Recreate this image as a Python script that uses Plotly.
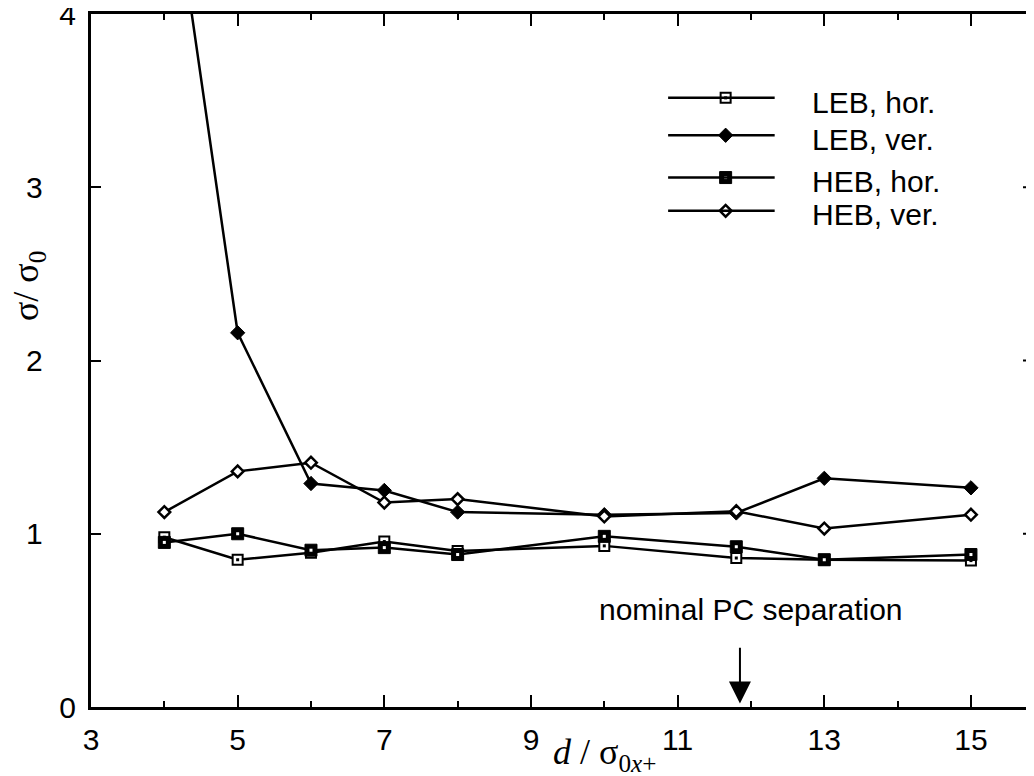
import plotly.graph_objects as go

# ---- data ----
x_vals = [4, 5, 6, 7, 8, 10, 11.8, 13, 15]
leb_hor = [0.98, 0.85, 0.89, 0.955, 0.90, 0.93, 0.86, 0.85, 0.845]
leb_ver = [5.1, 2.16, 1.29, 1.25, 1.125, 1.11, 1.12, 1.32, 1.265]
heb_hor = [0.95, 1.00, 0.905, 0.92, 0.88, 0.985, 0.925, 0.85, 0.88]
heb_ver = [1.125, 1.36, 1.41, 1.18, 1.20, 1.10, 1.13, 1.03, 1.11]

series_names = ["LEB, hor.", "LEB, ver.", "HEB, hor.", "HEB, ver."]
x_major_ticks = [3, 5, 7, 9, 11, 13, 15]
y_ticks = [0, 1, 2, 3, 4]
y_tick_text = ["0", "1\u00a0\u00a0\u00a0\u00a0", "2\u00a0\u00a0\u00a0\u00a0", "3\u00a0\u00a0\u00a0\u00a0", "4"]
nominal_sep = 11.85

LW = 2.5
BLACK = "black"

fig = go.Figure()

# LEB hor: white square with black dot
fig.add_trace(go.Scatter(x=x_vals, y=leb_hor, mode="lines+markers", name=series_names[0],
                         line=dict(color=BLACK, width=LW),
                         marker=dict(symbol="square", size=10, color="white",
                                     line=dict(color=BLACK, width=2))))
fig.add_trace(go.Scatter(x=x_vals, y=leb_hor, mode="markers", showlegend=False,
                         marker=dict(symbol="square", size=3, color=BLACK)))
# LEB ver: filled diamond
fig.add_trace(go.Scatter(x=x_vals, y=leb_ver, mode="lines+markers", name=series_names[1],
                         line=dict(color=BLACK, width=LW),
                         marker=dict(symbol="diamond", size=11, color=BLACK,
                                     line=dict(color=BLACK, width=1))))
# HEB hor: black square with white dot
fig.add_trace(go.Scatter(x=x_vals, y=heb_hor, mode="lines+markers", name=series_names[2],
                         line=dict(color=BLACK, width=LW),
                         marker=dict(symbol="square", size=12, color=BLACK,
                                     line=dict(color=BLACK, width=1))))
fig.add_trace(go.Scatter(x=x_vals, y=heb_hor, mode="markers", showlegend=False,
                         marker=dict(symbol="square", size=3, color="white")))
# HEB ver: open diamond
fig.add_trace(go.Scatter(x=x_vals, y=heb_ver, mode="lines+markers", name=series_names[3],
                         line=dict(color=BLACK, width=LW),
                         marker=dict(symbol="diamond", size=9, color="white",
                                     line=dict(color=BLACK, width=2.5))))

# ---- custom legend (drawn on an overlay paper-like axis) ----
leg_rows = [0.879, 0.825, 0.764, 0.716]
leg_x0, leg_x1, leg_xm, leg_tx = 0.612, 0.725, 0.673, 0.762
shapes = []
for ry in leg_rows:
    shapes.append(dict(type="line", xref="paper", yref="paper", x0=leg_x0, x1=leg_x1,
                       y0=ry, y1=ry, line=dict(color=BLACK, width=LW)))
legend_styles = [
    dict(symbol="square", size=10, color="white", line=dict(color=BLACK, width=2)),
    dict(symbol="diamond", size=11, color=BLACK, line=dict(color=BLACK, width=1)),
    dict(symbol="square", size=12, color=BLACK, line=dict(color=BLACK, width=1)),
    dict(symbol="diamond", size=9, color="white", line=dict(color=BLACK, width=2.5)),
]
for ry, st in zip(leg_rows, legend_styles):
    fig.add_trace(go.Scatter(x=[leg_xm], y=[ry], mode="markers", xaxis="x2", yaxis="y2",
                             showlegend=False, marker=st, hoverinfo="skip"))
fig.add_trace(go.Scatter(x=[leg_xm, leg_xm], y=[leg_rows[0], leg_rows[2]], mode="markers",
                         xaxis="x2", yaxis="y2", showlegend=False, hoverinfo="skip",
                         marker=dict(symbol="square", size=3,
                                     color=[BLACK, "white"])))

annotations = []
for ry, nm in zip(leg_rows, series_names):
    annotations.append(dict(xref="paper", yref="paper", x=leg_tx, y=ry - 0.006, text=nm,
                            showarrow=False, xanchor="left", yanchor="middle",
                            font=dict(family="Liberation Sans, Arial", size=30, color=BLACK)))

# right-side inward y ticks (no right axis line in reference)
for yv in y_ticks[1:-1]:
    shapes.append(dict(type="line", xref="paper", yref="y", x0=1.0, x1=1.0 - 11 / 943,
                       y0=yv, y1=yv, line=dict(color=BLACK, width=2)))

# nominal PC separation arrow + label
annotations.append(dict(x=nominal_sep, y=0.02, ax=nominal_sep, ay=0.35, xref="x", yref="y",
                        axref="x", ayref="y", showarrow=True, arrowhead=2, arrowsize=2.2,
                        arrowwidth=2, arrowcolor=BLACK, text=""))
annotations.append(dict(x=12.0, y=0.56, xref="x", yref="y", text="nominal PC separation",
                        showarrow=False, xanchor="center", yanchor="middle",
                        font=dict(family="Liberation Sans, Arial", size=30, color=BLACK)))

# axis titles
annotations.append(dict(x=10.0, y=-0.069, xref="x", yref="paper",
                        text="<i>d</i> / σ<sub>0<i>x</i>+</sub>", showarrow=False,
                        xanchor="center", yanchor="middle",
                        font=dict(family="Liberation Serif, Times New Roman", size=36, color=BLACK)))
annotations.append(dict(x=-0.066, y=0.607, xref="paper", yref="paper",
                        text="σ/ σ<sub>0</sub>", showarrow=False, textangle=-90,
                        xanchor="center", yanchor="middle",
                        font=dict(family="Liberation Serif, Times New Roman", size=36, color=BLACK)))

fig.update_layout(
    width=1026, height=768, autosize=False,
    margin=dict(l=83, r=0, t=6, b=69, pad=0, autoexpand=False),
    paper_bgcolor="white", plot_bgcolor="white",
    showlegend=False,
    font=dict(family="Liberation Sans, Arial", size=30, color=BLACK),
    xaxis=dict(range=[3, 15.86], tickvals=x_major_ticks, ticks="inside", ticklen=12,
               tickwidth=2, tickcolor=BLACK, showline=True, linewidth=3, linecolor=BLACK,
               mirror="ticks", showgrid=False, zeroline=False, automargin=False,
               minor=dict(dtick=1, tick0=3, ticks="inside", ticklen=6, tickwidth=2,
                          tickcolor=BLACK, showgrid=False),
               tickfont=dict(size=30), ticklabelstandoff=4),
    yaxis=dict(range=[0, 4], tickvals=y_ticks, ticktext=y_tick_text, ticks="inside",
               ticklen=10, tickwidth=2, tickcolor=BLACK, showline=True, linewidth=3,
               linecolor=BLACK, showgrid=False, zeroline=False, tickfont=dict(size=30),
               ticklabelstandoff=6, ticklabeloverflow="allow", automargin=False),
    xaxis2=dict(range=[0, 1], overlaying="x", visible=False, domain=[0, 1]),
    yaxis2=dict(range=[0, 1], overlaying="y", visible=False, domain=[0, 1]),
    shapes=shapes,
    annotations=annotations,
)

fig.write_html("out.html")
